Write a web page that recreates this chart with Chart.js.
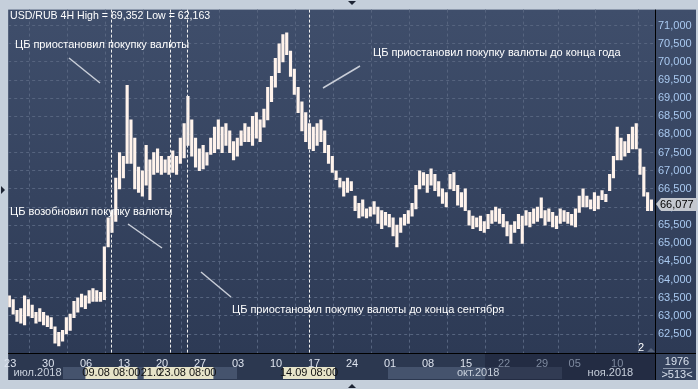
<!DOCTYPE html>
<html>
<head>
<meta charset="utf-8">
<script src="https://cdn.jsdelivr.net/npm/chart.js@4"></script>
<style>
  html, body { margin: 0; padding: 0; background: #c5cfdb; }
  canvas { display: block; }
</style>
</head>
<body>
<canvas id="myChart" width="698" height="389"></canvas>
<script>
// USD/RUB 4H, one bar every half trading day (day 0 = 23 Jul 2018)
const firstDay = -0.1;
const barStep = 0.5;

const highs = [
  63.55, 63.45, 63.15, 63.2, 63.55, 63.45, 63.3, 63.1, 63.2, 63.1,
  63.0, 62.95, 62.7, 62.55, 62.6, 62.95, 63.05, 63.4, 63.5, 63.6,
  63.55, 63.7, 63.75, 63.7, 63.65, 64.9, 65.7, 65.9, 66.8, 67.5,
  67.4, 69.35, 68.4, 67.9, 67.1, 67.0, 67.7, 67.3, 67.5, 67.6,
  67.4, 67.3, 67.4, 67.55, 67.4, 67.9, 68.3, 69.05, 68.4, 67.9,
  67.6, 67.7, 67.5, 67.9, 68.2, 68.4, 68.2, 68.3, 68.1, 67.8,
  67.9, 68.1, 68.3, 68.2, 68.5, 68.6, 68.4, 68.7, 69.3, 69.6,
  70.1, 70.5, 70.75, 70.8, 70.3, 69.8, 69.3, 68.9, 68.6, 68.3,
  68.2, 68.3, 68.4, 68.1, 67.7, 67.4, 67.0, 66.8, 66.7, 66.8,
  66.7, 66.3, 66.1, 66.2, 65.95, 66.0, 66.15, 66.0, 65.9, 65.85,
  65.8, 65.7, 65.5, 65.7, 65.8, 65.9, 66.1, 66.6, 67.0, 66.95,
  66.9, 67.05, 66.9, 66.7, 66.5, 66.4, 66.9, 66.95, 66.6, 66.4,
  66.5, 65.9, 65.75, 65.7, 65.75, 65.6, 65.8, 65.9, 66.0, 65.95,
  65.8, 65.6, 65.5, 65.6, 65.8, 65.75, 65.9, 65.85, 65.95, 66.0,
  66.25, 65.9, 65.95, 65.85, 65.75, 65.95, 65.9, 65.85, 65.8, 65.95,
  66.3, 66.5, 66.3, 66.2, 66.4, 66.3, 66.45, 66.35, 66.9, 67.4,
  68.2, 67.9, 67.8, 68.0, 68.2, 68.3, 67.6, 67.1, 66.4, 66.2
];

const lows = [
  63.25, 63.05, 62.85, 62.8, 62.75, 63.0, 62.95, 62.8, 62.85, 62.75,
  62.7, 62.65, 62.25, 62.17, 62.3, 62.5, 62.6, 62.95, 63.1, 63.25,
  63.2, 63.35, 63.4, 63.4, 63.4, 63.45, 64.9, 65.3, 65.6, 66.5,
  66.8, 67.2, 67.2, 66.5, 66.4, 66.3, 66.6, 66.2, 66.9, 66.95,
  66.9, 66.95, 66.9, 66.95, 66.9, 67.2, 67.35, 67.7, 67.4, 67.1,
  67.0, 67.05, 67.15, 67.45, 67.5, 67.6, 67.5, 67.7, 67.5, 67.3,
  67.4, 67.7, 67.8, 67.8, 67.7, 67.9, 67.8, 68.2, 68.4, 68.9,
  69.3, 69.7, 70.0, 70.2, 69.6, 69.1, 68.6, 68.1, 67.8, 67.6,
  67.55, 67.7, 67.8, 67.5, 67.2, 66.95, 66.75, 66.55, 66.3, 66.4,
  66.45, 65.9, 65.7, 65.75, 65.7, 65.75, 65.8, 65.55, 65.4, 65.5,
  65.45, 65.2, 64.9, 65.3, 65.5, 65.55, 65.75, 65.95, 66.5, 66.6,
  66.4, 66.6, 66.45, 66.3, 66.1, 66.0, 66.5, 66.45, 66.05, 66.0,
  65.9, 65.5, 65.4, 65.45, 65.35, 65.3, 65.4, 65.55, 65.6, 65.55,
  65.45, 65.2, 65.0, 65.3, 65.4, 65.0, 65.5, 65.45, 65.55, 65.6,
  65.7, 65.5, 65.6, 65.45, 65.4, 65.55, 65.6, 65.55, 65.5, 65.45,
  65.85, 66.0, 66.0, 65.95, 65.9, 65.95, 66.2, 66.15, 66.45, 66.8,
  67.3, 67.3, 67.4, 67.5, 67.6, 67.6, 66.9, 66.3, 65.9, 65.9
];

const lastPrice = 66.077;

// week ticks along the bottom
const tickDays = [0, 5, 10, 15, 20, 25, 30, 35, 40, 45, 50, 55, 60, 65, 70, 74.3, 79.9];
const tickLabels = ["23", "30", "06", "13", "20", "27", "03", "10", "17", "24", "01", "08", "15", "22", "29", "05", "10"];
const priceTicks = [62.5, 63, 63.5, 64, 64.5, 65, 65.5, 66, 66.5, 67, 67.5, 68, 68.5, 69, 69.5, 70, 70.5, 71];

const monthLabels = ["июл.2018", "окт.2018", "ноя.2018"];
const monthDays = [3.6, 61.6, 79];

// events marked with dashed lines
const eventDays = [13.33, 21.0, 23.33, 39.33];
const eventLabels = ["09.08 08:00", "21.08 00:00", "23.08 08:00", "14.09 08:00"];

const notes = [
  { text: "ЦБ приостановил покупку валюты", x: 15, y: 45, line: [69, 58, 100, 83] },
  { text: "ЦБ приостановил покупку валюты до конца года", x: 373, y: 53, line: [323, 88, 360, 66] },
  { text: "ЦБ возобновил покупку валюты", x: 10, y: 212, line: [128, 224, 162, 248] },
  { text: "ЦБ приостановил покупку валюты до конца сентября", x: 232, y: 310, line: [201, 272, 231, 297] }
];

const FONT = "'Liberation Sans', Arial, sans-serif";

const bars = highs.map((h, i) => ({ x: firstDay + i * barStep, y: [lows[i], h] }));

const frame = {
  id: "frame",
  beforeDraw(chart) {
    const { ctx, chartArea: a } = chart;
    ctx.save();
    ctx.fillStyle = "#c5cfdb";
    ctx.fillRect(0, 0, chart.width, chart.height);
    // plot + price axis background
    const g = ctx.createLinearGradient(0, a.top, 0, a.bottom);
    g.addColorStop(0, "#3f4e6b");
    g.addColorStop(1, "#2d3a55");
    ctx.fillStyle = g;
    ctx.fillRect(a.left, a.top, 696 - a.left, a.bottom - a.top);
    // time axis area
    ctx.fillStyle = "#2c3850";
    ctx.fillRect(a.left, a.bottom, 696 - a.left, 380 - a.bottom);
    ctx.fillStyle = "#45536d";
    ctx.fillRect(63, 367, 174, 12);
    ctx.fillRect(388, 367, 174, 12);
    ctx.fillStyle = "rgba(24, 32, 50, 0.45)";
    ctx.fillRect(485, a.bottom, a.right - 485, 380 - a.bottom);
    ctx.fillStyle = "#34425d";
    ctx.fillRect(a.right, a.bottom, 696 - a.right, 380 - a.bottom);
    ctx.restore();
  },
  afterDatasetsDraw(chart) {
    const { ctx, chartArea: a, scales } = chart;
    const x = scales.x, y = scales.y;
    ctx.save();
    // event lines
    ctx.strokeStyle = "#f0f0f0";
    ctx.lineWidth = 1;
    ctx.setLineDash([3, 2]);
    eventDays.forEach(d => {
      const px = Math.round(x.getPixelForValue(d)) + 0.5;
      ctx.beginPath();
      ctx.moveTo(px, a.top);
      ctx.lineTo(px, a.bottom);
      ctx.stroke();
    });
    ctx.setLineDash([]);
    // notes
    ctx.font = "11px " + FONT;
    ctx.fillStyle = "#ffffff";
    ctx.textBaseline = "middle";
    ctx.textAlign = "left";
    notes.forEach(n => ctx.fillText(n.text, n.x, n.y));
    ctx.strokeStyle = "#c9ced8";
    ctx.lineWidth = 1.5;
    notes.forEach(n => {
      ctx.beginPath();
      ctx.moveTo(n.line[0], n.line[1]);
      ctx.lineTo(n.line[2], n.line[3]);
      ctx.stroke();
    });
    // title
    ctx.font = "10.6px " + FONT;
    ctx.fillText("USD/RUB 4H High = 69,352 Low = 62,163", 10, 16);
    // separators
    ctx.strokeStyle = "#000000";
    ctx.lineWidth = 1;
    ctx.beginPath();
    ctx.moveTo(a.right + 0.5, a.top);
    ctx.lineTo(a.right + 0.5, 380);
    ctx.moveTo(a.left, a.bottom + 0.5);
    ctx.lineTo(696, a.bottom + 0.5);
    ctx.stroke();
    // month labels
    ctx.font = "11px " + FONT;
    ctx.fillStyle = "#c8d0dc";
    ctx.textAlign = "center";
    monthLabels.forEach((m, i) => ctx.fillText(m, x.getPixelForValue(monthDays[i]), 373));
    // event tags
    eventDays.forEach((d, i) => {
      const px = x.getPixelForValue(d);
      ctx.fillStyle = "#e7e4c9";
      ctx.fillRect(px - 26, 367, 52, 12);
      ctx.fillStyle = "#111111";
      ctx.fillText(eventLabels[i], px, 373);
    });
    // last price tag
    const py = Math.round(y.getPixelForValue(lastPrice));
    ctx.fillStyle = "#c4c8cf";
    ctx.beginPath();
    ctx.moveTo(a.right + 1, py);
    ctx.lineTo(a.right + 6, py - 6);
    ctx.lineTo(697, py - 6);
    ctx.lineTo(697, py + 7);
    ctx.lineTo(a.right + 6, py + 7);
    ctx.closePath();
    ctx.fill();
    ctx.fillStyle = "#000000";
    ctx.textAlign = "left";
    ctx.fillText(lastPrice.toFixed(3).replace(".", ","), a.right + 5, py + 1);
    // bar counter box
    ctx.fillStyle = "#d8e0ec";
    ctx.textAlign = "center";
    ctx.fillText("1976", 677, 362);
    ctx.fillText(">513<", 677, 375);
    ctx.strokeStyle = "#8b97ab";
    ctx.beginPath();
    ctx.moveTo(663, 368.5);
    ctx.lineTo(691, 368.5);
    ctx.stroke();
    ctx.fillStyle = "#ffffff";
    ctx.fillText("2", 641, 348);
    ctx.fillStyle = "#56637b";
    ctx.beginPath();
    ctx.moveTo(647, 352);
    ctx.lineTo(651, 348);
    ctx.lineTo(655, 352);
    ctx.fill();
    // frame arrows
    ctx.fillStyle = "#1d2433";
    ctx.beginPath();
    ctx.moveTo(1, 186); ctx.lineTo(5, 190); ctx.lineTo(1, 194); ctx.fill();
    ctx.beginPath();
    ctx.moveTo(348, 1); ctx.lineTo(356, 1); ctx.lineTo(352, 5); ctx.fill();
    ctx.beginPath();
    ctx.moveTo(348, 388); ctx.lineTo(356, 388); ctx.lineTo(352, 384); ctx.fill();
    ctx.restore();
  }
};

const ctx = document.getElementById("myChart").getContext("2d");

new Chart(ctx, {
  type: "bar",
  data: {
    datasets: [
      {
        label: "USD/RUB",
        data: bars,
        backgroundColor: "#fff3ec",
        borderWidth: 0,
        barThickness: 2.5,
      },
    ],
  },
  options: {
    responsive: false,
    animation: false,
    layout: { padding: { left: 8, top: 8, right: 2, bottom: 9 } },
    plugins: {
      legend: { display: false },
      tooltip: { enabled: false },
    },
    scales: {
      x: {
        type: "linear",
        min: -0.26,
        max: 84.87,
        offset: false,
        afterBuildTicks: s => { s.ticks = tickDays.map(v => ({ value: v })); },
        afterFit: s => { s.height = 27; },
        ticks: {
          autoSkip: false,
          maxRotation: 0,
          padding: 4,
          font: { family: FONT, size: 11 },
          color: c => (c.index >= 13 ? "#7d899e" : "#dde3ee"),
          callback: (v, i) => tickLabels[i],
        },
        grid: { color: "#56647f", drawTicks: false, lineWidth: 1 },
        border: { display: false, dash: [3, 3] },
      },
      y: {
        position: "right",
        min: 61.977,
        max: 71.44,
        afterBuildTicks: s => { s.ticks = priceTicks.map(v => ({ value: v })); },
        afterFit: s => { s.width = 41; },
        ticks: {
          padding: 3,
          font: { family: FONT, size: 11 },
          color: "#a9c9f0",
          callback: v => v.toFixed(3).replace(".", ","),
        },
        grid: { color: "#56647f", drawTicks: false, lineWidth: 1 },
        border: { display: false, dash: [3, 3] },
      },
    },
  },
  plugins: [frame],
});
</script>
</body>
</html>
